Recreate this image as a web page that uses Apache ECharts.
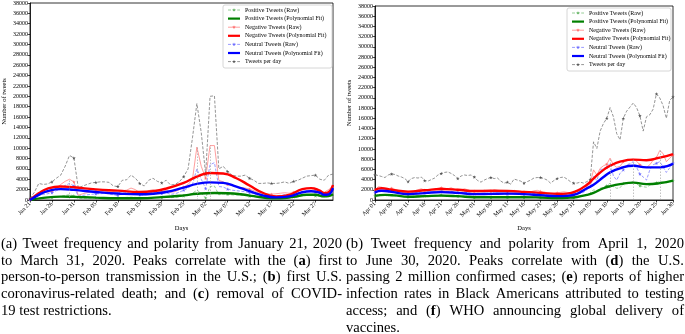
<!DOCTYPE html>
<html>
<head>
<meta charset="utf-8">
<script src="https://cdn.jsdelivr.net/npm/echarts@6/dist/echarts.min.js"></script>
<style>
  html, body { margin: 0; padding: 0; background: #fff; }
  #chart { width: 685px; height: 334px; }
</style>
</head>
<body>
<div id="chart"></div>
<script>
// ---------- Panel (a): January 21 – March 31, 2020 (daily) ----------
const ticksA = ['Jan 21', 'Jan 26', 'Jan 31', 'Feb 05', 'Feb 10', 'Feb 15', 'Feb 20',
  'Feb 25', 'Mar 02', 'Mar 07', 'Mar 12', 'Mar 17', 'Mar 22', 'Mar 27'];
const totalA = [300, 1500, 3200, 3000, 3100, 3500, 4200, 4800, 6500, 8600,
  8100, 2300, 2700, 3000, 3300, 3400, 3500, 3500, 3400, 2700,
  2600, 3800, 3900, 4800, 4200, 3200, 2700, 3800, 4200, 3600,
  3300, 3800, 2900, 3000, 3500, 4500, 6000, 12000, 18600, 13000,
  5000, 20000, 20100, 6000, 6500, 5500, 4800, 4600, 4600, 4800,
  4200, 3800, 3200, 3200, 3300, 3200, 3200, 3300, 3500, 3200,
  3600, 3800, 4200, 4600, 4700, 4800, 4000, 3800, 4800, 5000];
const negA = [100, 800, 1500, 1400, 1500, 1700, 2300, 3000, 3600, 4000,
  3500, 900, 1200, 1400, 1600, 1700, 1700, 1700, 1600, 1300,
  1200, 1800, 1900, 2300, 2000, 1400, 1200, 1800, 2000, 1700,
  1600, 1900, 1500, 1600, 2000, 2500, 3000, 4000, 10200, 6500,
  4200, 10500, 10500, 3800, 3500, 3000, 2800, 2600, 2400, 2300,
  2100, 1800, 1400, 1300, 1200, 1100, 1200, 1300, 1400, 1300,
  1500, 1700, 2000, 2200, 2200, 2000, 1700, 1500, 2000, 2600];
const neuA = [80, 600, 1200, 1100, 1200, 1400, 1800, 2200, 2800, 3200,
  2700, 700, 900, 1000, 1100, 1200, 1200, 1300, 1200, 1000,
  900, 1300, 1400, 1700, 1500, 1000, 900, 1300, 1500, 1300,
  1200, 1400, 1100, 1200, 1500, 1900, 2300, 3000, 6000, 4000,
  2200, 6800, 7200, 2600, 2500, 2100, 1900, 1800, 1700, 1600,
  1400, 1200, 900, 800, 700, 700, 800, 900, 1000, 900,
  1100, 1300, 1500, 1700, 1700, 1500, 1200, 1000, 1500, 2000];
const posA = [30, 200, 400, 400, 450, 500, 600, 700, 900, 1000,
  800, 300, 350, 400, 400, 450, 450, 450, 400, 350,
  300, 450, 500, 550, 500, 400, 350, 450, 500, 450,
  450, 550, 450, 500, 600, 800, 1000, 1300, 1900, 1300,
  400, 2600, 2700, 1000, 1200, 1100, 1000, 950, 900, 850,
  750, 650, 500, 450, 400, 400, 450, 500, 550, 500,
  600, 700, 800, 900, 900, 800, 700, 600, 800, 1000];
// polynomial-fit curves, sampled as [day index, tweets]
const negFitA = [[0, 0], [2, 1300], [4, 2200], [7, 2600], [10, 2450], [15, 2050], [20, 1800],
  [25, 1550], [28, 1700], [31, 2200], [35, 3300], [38, 4500], [41, 5200], [44, 5100], [47, 4200],
  [50, 2800], [53, 1400], [56, 700], [59, 1000], [62, 2100], [64, 2300], [66, 1800], [67, 1300],
  [68, 1500], [69, 2900]];
const neuFitA = [[0, 0], [2, 1000], [4, 1700], [7, 2100], [10, 1950], [15, 1550], [20, 1250],
  [25, 1100], [28, 1200], [31, 1550], [35, 2400], [38, 3100], [41, 3400], [44, 3300], [47, 2600],
  [50, 1700], [53, 900], [56, 500], [59, 700], [62, 1500], [64, 1700], [66, 1400], [67, 1000],
  [68, 1100], [69, 2300]];
const posFitA = [[0, 0], [3, 400], [7, 650], [10, 600], [15, 450], [20, 350], [25, 350],
  [30, 550], [35, 900], [38, 1200], [42, 1350], [45, 1300], [48, 1100], [51, 750], [54, 400],
  [57, 350], [60, 600], [63, 1000], [65, 1000], [67, 700], [68, 750], [69, 1100]];
const eventsA = [[9, 'a'], [38, 'b'], [41, 'c']];

// ---------- Panel (b): April 1 – June 30, 2020 (daily) ----------
const ticksB = ['Apr 01', 'Apr 06', 'Apr 11', 'Apr 16', 'Apr 21', 'Apr 26', 'May 01',
  'May 06', 'May 11', 'May 16', 'May 21', 'May 26', 'May 31', 'Jun 05', 'Jun 10',
  'Jun 15', 'Jun 20', 'Jun 25', 'Jun 30'];
const totalB = [4900, 4800, 4600, 4400, 4900, 5100, 5000, 4700, 4500, 4200,
  3600, 4200, 4400, 4300, 4500, 3800, 3700, 4000, 4300, 4900,
  5200, 5400, 5500, 5200, 4800, 4200, 4700, 4900, 4800, 4900,
  4500, 3800, 3500, 3900, 4200, 4400, 4200, 4300, 3700, 3300,
  3500, 3100, 4100, 3900, 3700, 3300, 3600, 3900, 4300, 4400,
  4400, 4200, 3900, 3300, 3800, 4200, 4400, 4500, 4100, 3600,
  3300, 3300, 3500, 3300, 3600, 4000, 11400, 10100, 13500, 15000,
  16000, 18100, 16300, 13000, 11800, 16000, 17400, 18200, 19000, 18100,
  16500, 13500, 16300, 16700, 17800, 20800, 20000, 18500, 16000, 19500,
  20200];
const negB = [2000, 2600, 2500, 2200, 1900, 2300, 2100, 1900, 1700, 1600,
  1500, 1700, 1800, 2000, 2200, 1900, 1800, 2000, 2100, 2300,
  2400, 2300, 2200, 2400, 2100, 1900, 2000, 2200, 2000, 1800,
  1700, 1600, 1700, 1900, 1800, 1700, 2000, 1900, 1800, 1700,
  1600, 1700, 1900, 1800, 1700, 1600, 1500, 1600, 1800, 1900,
  1700, 1600, 1400, 1300, 1300, 1400, 1500, 1600, 1500, 1400,
  1500, 1700, 1800, 2000, 2600, 3300, 5900, 4900, 6200, 6700,
  7000, 8200, 6900, 6400, 6600, 7500, 7600, 7900, 8000, 7600,
  6900, 6500, 6400, 6900, 7800, 8300, 9700, 9100, 7500, 8200,
  8800];
const neuB = [1500, 2000, 1900, 1700, 1500, 1700, 1500, 1400, 1300, 1200,
  1100, 1300, 1400, 1500, 1600, 1400, 1300, 1500, 1600, 1700,
  1800, 1700, 1600, 1700, 1500, 1400, 1500, 1600, 1400, 1300,
  1200, 1100, 1200, 1300, 1300, 1200, 1400, 1300, 1200, 1200,
  1100, 1200, 1300, 1300, 1200, 1100, 1100, 1200, 1300, 1300,
  1200, 1100, 1000, 900, 900, 900, 1000, 1100, 1000, 900,
  1000, 1200, 1300, 1500, 2000, 2600, 4600, 3800, 5900, 6200,
  6400, 7200, 4700, 3900, 5200, 5900, 6900, 7100, 7500, 6400,
  5100, 4500, 3900, 5900, 6900, 7200, 7500, 6500, 5400, 6300,
  7200];
const posB = [800, 1100, 1000, 900, 800, 900, 800, 700, 700, 600,
  600, 700, 800, 800, 900, 800, 700, 800, 900, 900,
  1000, 900, 800, 900, 800, 700, 700, 800, 700, 600,
  500, 500, 600, 600, 600, 500, 600, 600, 500, 500,
  500, 500, 600, 600, 500, 500, 500, 500, 600, 600,
  500, 500, 400, 400, 400, 400, 500, 500, 400, 400,
  500, 600, 700, 800, 1000, 1300, 2000, 1800, 2300, 2500,
  2800, 3300, 2600, 2300, 2400, 3200, 3300, 3400, 3600, 3200,
  2800, 2600, 2500, 2900, 3200, 3400, 3600, 3500, 3400, 3500,
  3800];
const negFitB = [[0, 2000], [2, 2300], [5, 2000], [10, 1650], [15, 1900], [20, 2150], [25, 2000],
  [30, 1750], [35, 1800], [40, 1750], [45, 1600], [50, 1400], [55, 1200], [58, 1250], [61, 1800],
  [64, 3000], [66, 4200], [69, 5900], [71, 6700], [74, 7500], [78, 7900], [82, 7800], [86, 8300],
  [90, 9000]];
const neuFitB = [[0, 1500], [2, 1800], [5, 1600], [10, 1150], [15, 1350], [20, 1550], [25, 1400],
  [30, 1150], [35, 1200], [40, 1250], [45, 1150], [50, 950], [55, 750], [58, 800], [61, 1200],
  [64, 2300], [66, 3000], [69, 4500], [71, 5400], [74, 6200], [78, 6700], [82, 6400], [86, 6400],
  [90, 7100]];
const posFitB = [[0, 800], [3, 1000], [6, 900], [10, 650], [15, 750], [20, 850], [25, 750],
  [30, 550], [35, 550], [40, 550], [45, 550], [50, 500], [55, 400], [58, 450], [61, 600],
  [64, 1000], [66, 1400], [69, 2300], [71, 2700], [74, 3100], [78, 3400], [82, 3100], [86, 3300],
  [90, 3800]];
const eventsB = [[71, 'd'], [78, 'e'], [86, 'f']];

// ---------- Captions (letters wrapped in *...* are bold) ----------
const captionA = [
  '(a) Tweet frequency and polarity from January 21, 2020',
  'to March 31, 2020. Peaks correlate with the (*a*) first',
  'person-to-person transmission in the U.S.; (*b*) first U.S.',
  'coronavirus-related death; and (*c*) removal of COVID-',
  '19 test restrictions.'
];
const captionB = [
  '(b) Tweet frequency and polarity from April 1, 2020',
  'to June 30, 2020. Peaks correlate with (*d*) the U.S.',
  'passing 2 million confirmed cases; (*e*) reports of higher',
  'infection rates in Black Americans attributed to testing',
  'access; and (*f*) WHO announcing global delivery of',
  'vaccines.'
];

const SERIF = '"Liberation Serif", "Times New Roman", serif';
const AX_FONT = 6;
const STAR = 'path://M0,-10L2.2,-3.1L9.5,-3.1L3.6,1.2L5.9,8.1L0,3.8L-5.9,8.1L-3.6,1.2L-9.5,-3.1L-2.2,-3.1Z';

// one entry per series kind: legend text and drawing style
const KINDS = [
  { key: 'posRaw', name: 'Positive Tweets (Raw)', color: '#7fc27f', sym: '#5fb25f', dash: true, raw: true },
  { key: 'posFit', name: 'Positive Tweets (Polynomial Fit)', color: '#008000' },
  { key: 'negRaw', name: 'Negative Tweets (Raw)', color: '#ff8585', sym: '#ff6f6f', dash: false, raw: true },
  { key: 'negFit', name: 'Negative Tweets (Polynomial Fit)', color: '#ff0000' },
  { key: 'neuRaw', name: 'Neutral Tweets (Raw)', color: '#8080ff', sym: '#6a6aff', dash: true, raw: true },
  { key: 'neuFit', name: 'Neutral Tweets (Polynomial Fit)', color: '#0000ff' },
  { key: 'total', name: 'Tweets per day', color: '#7a7a7a', sym: '#555555', dash: true, raw: true }
];
const K = Object.fromEntries(KINDS.map(k => [k.key, k]));
const DASH = [3, 1.6];

function rawLine(kind, g, data) {
  return {
    name: kind.name, type: 'line', xAxisIndex: g, yAxisIndex: g, data,
    symbol: STAR, symbolSize: 3.6, showSymbol: true,
    itemStyle: { color: kind.sym },
    lineStyle: { color: kind.color, width: 0.8, type: kind.dash ? DASH : 'solid' },
    emphasis: { disabled: true }, animation: false, z: 2
  };
}
function fitLine(kind, g, data) {
  return {
    name: kind.name, type: 'line', xAxisIndex: g, yAxisIndex: g, data,
    smooth: 0.5, symbol: 'none', showSymbol: false,
    itemStyle: { color: kind.color },
    lineStyle: { color: kind.color, width: 2.4 },
    emphasis: { disabled: true }, animation: false, z: 3
  };
}
function negWithEvents(g, values, events) {
  const map = new Map(events);
  const data = values.map((v, i) => map.has(i)
    ? { value: v, label: { show: true, formatter: map.get(i), position: 'top', distance: 2,
        fontSize: 7, fontFamily: SERIF, color: '#000' } }
    : v);
  const s = rawLine(K.negRaw, g, data);
  s.labelLayout = { hideOverlap: false };
  s.markLine = {
    silent: true, symbol: 'none', animation: false,
    lineStyle: { color: '#999', width: 0.6, type: [1.5, 1.5] },
    label: { show: false },
    data: events.map(([i]) => [{ coord: [i, 0] }, { coord: [i, values[i]] }])
  };
  return s;
}
function panelSeries(g, pos, posFit, neg, negFit, neu, neuFit, total, events) {
  return [
    rawLine(K.posRaw, g, pos),
    fitLine(K.posFit, g, posFit),
    negWithEvents(g, neg, events),
    fitLine(K.negFit, g, negFit),
    rawLine(K.neuRaw, g, neu),
    fitLine(K.neuFit, g, neuFit),
    rawLine(K.total, g, total)
  ];
}

function xAxisFor(g, n, ticks) {
  return {
    gridIndex: g, type: 'category', boundaryGap: false,
    data: Array.from({ length: n }, (_, i) => String(i)),
    axisLine: { lineStyle: { color: '#000', width: 0.8 } },
    axisTick: { interval: (i) => i % 5 === 0, length: 2.5, lineStyle: { color: '#000', width: 0.7 } },
    axisLabel: {
      interval: (i) => i % 5 === 0, rotate: 45, margin: 3,
      fontSize: AX_FONT, fontFamily: SERIF, color: '#000',
      formatter: (v, i) => ticks[Math.round(i / 5)]
    },
    splitLine: { show: false },
    name: 'Days', nameLocation: 'middle', nameGap: 16,
    nameTextStyle: { fontSize: 6.5, fontFamily: SERIF, color: '#000' }
  };
}
function yAxisFor(g) {
  return {
    gridIndex: g, type: 'value', min: 0, max: 38000, interval: 2000,
    axisLine: { show: true, lineStyle: { color: '#000', width: 0.8 } },
    axisTick: { show: true, length: 2.5, lineStyle: { color: '#000', width: 0.7 } },
    axisLabel: { fontSize: AX_FONT, fontFamily: SERIF, color: '#000', margin: 2,
      formatter: (v) => String(v) },
    splitLine: { show: false },
    name: 'Number of tweets', nameLocation: 'middle', nameGap: 22, nameRotate: 90,
    nameTextStyle: { fontSize: 6.5, fontFamily: SERIF, color: '#000' }
  };
}

// legend box drawn as graphics: line sample, star marker and label per entry
function starPoints(cx, cy, r) {
  const pts = [];
  for (let k = 0; k < 10; k++) {
    const a = -Math.PI / 2 + k * Math.PI / 5;
    const rr = k % 2 ? r * 0.4 : r;
    pts.push([cx + rr * Math.cos(a), cy + rr * Math.sin(a)]);
  }
  return pts;
}
function legendGraphic(x0, y0, w, h, step) {
  const els = [{
    type: 'rect', silent: true, z: 50,
    shape: { x: x0, y: y0, width: w, height: h, r: 2 },
    style: { fill: 'rgba(255,255,255,0.85)', stroke: '#cccccc', lineWidth: 0.8 }
  }];
  KINDS.forEach((k, i) => {
    const cy = y0 + 5 + i * step;
    els.push({
      type: 'line', silent: true, z: 51,
      shape: { x1: x0 + 5, y1: cy, x2: x0 + 17, y2: cy },
      style: { stroke: k.color, lineWidth: k.raw ? 0.8 : 2.2, lineDash: k.raw && k.dash ? DASH : null }
    });
    if (k.raw) {
      els.push({
        type: 'polygon', silent: true, z: 52,
        shape: { points: starPoints(x0 + 11, cy, 1.9) },
        style: { fill: k.sym }
      });
    }
    els.push({
      type: 'text', silent: true, z: 52, x: x0 + 22, y: cy,
      style: { text: k.name, fontSize: 6, fontFamily: SERIF, fill: '#000',
        align: 'left', verticalAlign: 'middle' }
    });
  });
  return els;
}

// justified caption text, one element per word
const measureCtx = document.createElement('canvas').getContext('2d');
const CAP_SIZE = 14.6;
function wordWidth(parts) {
  let w = 0;
  for (const p of parts) {
    measureCtx.font = (p.bold ? 'bold ' : '') + CAP_SIZE + 'px ' + SERIF;
    w += measureCtx.measureText(p.text).width;
  }
  return w;
}
function parseWord(word) {
  const parts = [];
  const re = /\*([^*]+)\*/g;
  let last = 0, m;
  while ((m = re.exec(word))) {
    if (m.index > last) parts.push({ text: word.slice(last, m.index), bold: false });
    parts.push({ text: m[1], bold: true });
    last = re.lastIndex;
  }
  if (last < word.length) parts.push({ text: word.slice(last), bold: false });
  return parts;
}
function captionElements(lines, x0, x1, y0, step) {
  const els = [];
  measureCtx.font = CAP_SIZE + 'px ' + SERIF;
  const space = measureCtx.measureText(' ').width;
  lines.forEach((line, li) => {
    const words = line.split(' ').map(parseWord);
    const widths = words.map(wordWidth);
    const total = widths.reduce((a, b) => a + b, 0);
    const isLast = li === lines.length - 1;
    const gap = (!isLast && words.length > 1) ? (x1 - x0 - total) / (words.length - 1) : space;
    let x = x0;
    words.forEach((parts, wi) => {
      const text = parts.map(p => p.bold ? '{b|' + p.text + '}' : p.text).join('');
      els.push({
        type: 'text', x, y: y0 + li * step, silent: true,
        style: {
          text, fontSize: CAP_SIZE, fontFamily: SERIF, fill: '#000',
          align: 'left', verticalAlign: 'middle',
          rich: { b: { fontWeight: 'bold', fontSize: CAP_SIZE, fontFamily: SERIF, fill: '#000' } }
        }
      });
      x += widths[wi] + gap;
    });
  });
  return els;
}

const chart = echarts.init(document.getElementById('chart'), null, { renderer: 'canvas' });
chart.setOption({
  animation: false,
  backgroundColor: '#fff',
  grid: [
    { left: 28, top: 2, width: 305, height: 198, show: true, borderColor: '#000', borderWidth: 0.8 },
    { left: 375, top: 6, width: 298, height: 194, show: true, borderColor: '#000', borderWidth: 0.8 }
  ],
  xAxis: [xAxisFor(0, totalA.length, ticksA), xAxisFor(1, totalB.length, ticksB)],
  yAxis: [yAxisFor(0), yAxisFor(1)],
  series: [
    ...panelSeries(0, posA, posFitA, negA, negFitA, neuA, neuFitA, totalA, eventsA),
    ...panelSeries(1, posB, posFitB, negB, negFitB, neuB, neuFitB, totalB, eventsB)
  ],
  graphic: [
    ...legendGraphic(223, 5, 109, 63, 8.6),
    ...legendGraphic(567, 8, 104, 63, 8.6),
    ...captionElements(captionA, 1, 342, 244, 16.8),
    ...captionElements(captionB, 346, 684, 244, 16.8)
  ]
});
</script>
</body>
</html>
